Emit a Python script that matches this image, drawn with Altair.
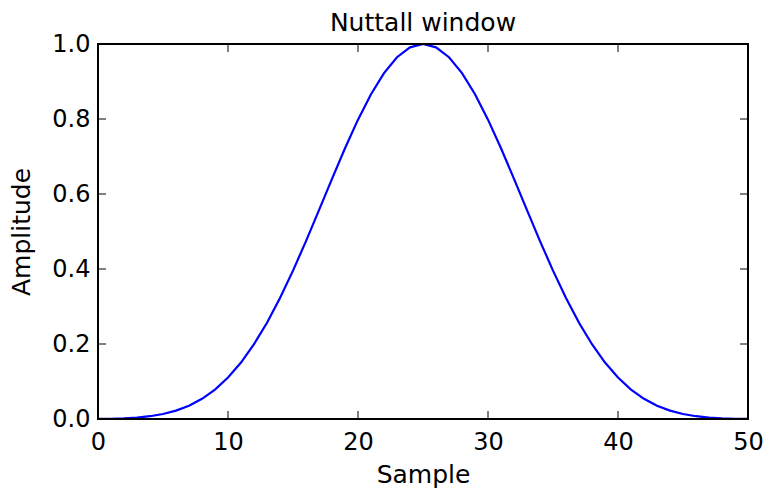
import altair as alt
import pandas as pd

sample = list(range(51))
half = [0.000363, 0.000675, 0.001719, 0.003802, 0.007438, 0.013329, 0.022347,
        0.035497, 0.053864, 0.078536, 0.110516, 0.150614, 0.199338, 0.256782,
        0.322536, 0.395626, 0.474484, 0.556978, 0.640475, 0.721971, 0.798259,
        0.866114, 0.922516, 0.964851, 0.991104]
amplitude = half + [1.0] + half[::-1]

x_ticks = [0, 10, 20, 30, 40, 50]
y_ticks = [0.0, 0.2, 0.4, 0.6, 0.8, 1.0]

W, H = 650, 375
df = pd.DataFrame({"Sample": sample, "Amplitude": amplitude})
xt = pd.DataFrame({"t": x_ticks})
yt = pd.DataFrame({"t": y_ticks})
one = pd.DataFrame({"d": [0]})

font = "DejaVu Sans"
LF, TF = 24, 25
xscale = alt.Scale(domain=[0, 50], nice=False, zero=False)
yscale = alt.Scale(domain=[0, 1], nice=False)

line = alt.Chart(df).mark_line(color="#0000ff", strokeWidth=2.2, clip=True).encode(
    x=alt.X("Sample:Q", scale=xscale,
            axis=alt.Axis(values=x_ticks, title="Sample", tickSize=0, domain=False,
                          grid=False, labelPadding=11, labelFontSize=LF, titleFontSize=TF,
                          labelFont=font, titleFont=font, labelColor="black",
                          titleColor="black", titleFontWeight="normal", titlePadding=8,
                          labelFlush=False)),
    y=alt.Y("Amplitude:Q", scale=yscale,
            axis=alt.Axis(values=y_ticks, title="Amplitude", tickSize=0, domain=False,
                          grid=False, labelPadding=8, labelFontSize=LF, titleFontSize=TF,
                          labelFont=font, titleFont=font, labelColor="black",
                          titleColor="black", titleFontWeight="normal", format=".1f",
                          titlePadding=17, labelFlush=False)),
)

tick_style = dict(color="black", strokeWidth=1)
xb = alt.Chart(xt).mark_rule(**tick_style).encode(
    x=alt.X("t:Q", scale=xscale), y=alt.value(H), y2=alt.value(H - 8))
xtop = alt.Chart(xt).mark_rule(**tick_style).encode(
    x=alt.X("t:Q", scale=xscale), y=alt.value(0), y2=alt.value(8))
yl = alt.Chart(yt).mark_rule(**tick_style).encode(
    y=alt.Y("t:Q", scale=yscale), x=alt.value(0), x2=alt.value(8))
yr = alt.Chart(yt).mark_rule(**tick_style).encode(
    y=alt.Y("t:Q", scale=yscale), x=alt.value(W), x2=alt.value(W - 8))

frame = alt.Chart(one).mark_rect(fill=None, stroke="black", strokeWidth=2).encode(
    x=alt.value(0), x2=alt.value(W), y=alt.value(0), y2=alt.value(H))

chart = alt.layer(line, xb, xtop, yl, yr, frame).properties(
    width=W, height=H,
    title=alt.TitleParams("Nuttall window", fontSize=TF, font=font,
                          fontWeight="normal", color="black", offset=0, dy=4),
    autosize=alt.AutoSizeParams(type="none"),
    padding={"left": 90, "top": 36, "right": 15, "bottom": 69},
).configure_view(strokeWidth=0).configure(background="white")

chart.save("out.html", embed_options={"renderer": "svg", "actions": False})
